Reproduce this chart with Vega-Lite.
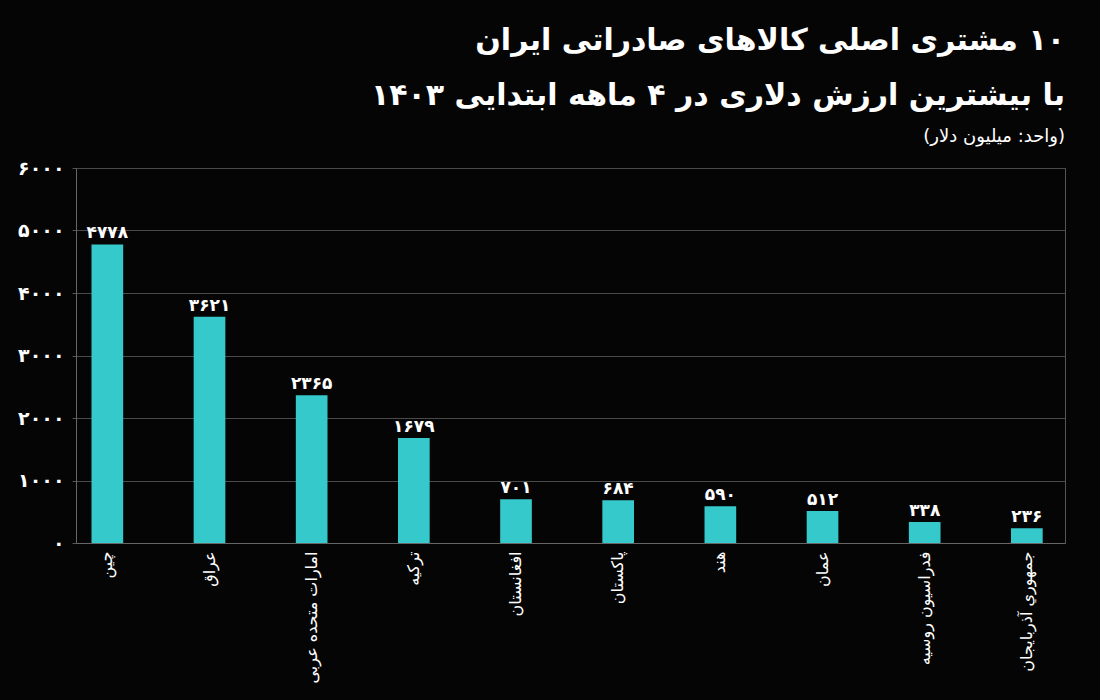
{
  "$schema": "https://vega.github.io/schema/vega-lite/v6.json",
  "width": 989,
  "height": 375,
  "autosize": {"type": "none"},
  "padding": {"left": 76, "top": 168, "right": 35, "bottom": 157},
  "background": "#050505",
  "title": {
    "text": ["\u200f۱۰ مشتری اصلی کالاهای صادراتی ایران", "\u200fبا بیشترین ارزش دلاری در ۴ ماهه ابتدایی ۱۴۰۳"],
    "subtitle": "\u200f(واحد: میلیون دلار)\u200f",
    "anchor": "end",
    "frame": "group",
    "orient": "top",
    "offset": 13,
    "font": "DejaVu Sans",
    "fontSize": 30,
    "fontWeight": "bold",
    "lineHeight": 55,
    "color": "#ffffff",
    "subtitleFont": "DejaVu Sans",
    "subtitleFontSize": 18,
    "subtitleColor": "#ffffff",
    "subtitlePadding": 17
  },
  "data": {
    "values": [
      {"country": "چین", "value": 4778},
      {"country": "عراق", "value": 3621},
      {"country": "امارات متحده عربی", "value": 2365},
      {"country": "ترکیه", "value": 1679},
      {"country": "افغانستان", "value": 701},
      {"country": "پاکستان", "value": 684},
      {"country": "هند", "value": 590},
      {"country": "عمان", "value": 512},
      {"country": "فدراسیون روسیه", "value": 338},
      {"country": "جمهوري آذربايجان", "value": 236}
    ]
  },
  "encoding": {
    "x": {
      "field": "country",
      "type": "nominal",
      "sort": null,
      "scale": {"paddingInner": 0.69, "paddingOuter": 0.185, "align": 0.41},
      "axis": {
        "title": null,
        "labelAngle": -90,
        "labelFont": "DejaVu Sans",
        "labelFontSize": 16,
        "labelColor": "#ffffff",
        "labelPadding": 8,
        "ticks": false,
        "domainColor": "#666666",
        "grid": false
      }
    },
    "y": {
      "field": "value",
      "type": "quantitative",
      "scale": {"domain": [0, 6000], "nice": false},
      "axis": {
        "title": null,
        "values": [0, 1000, 2000, 3000, 4000, 5000, 6000],
        "format": "d",
        "labelFont": "DejaVu Sans",
        "labelFontSize": 19,
        "labelFontWeight": "bold",
        "labelColor": "#ffffff",
        "labelPadding": 8,
        "tickSize": 4,
        "tickColor": "#555555",
        "domainColor": "#666666",
        "gridColor": "#4a4a4a",
        "gridWidth": 1
      }
    }
  },
  "layer": [
    {"mark": {"type": "bar", "color": "#36c9cc"}},
    {
      "mark": {"type": "text", "dy": -11, "font": "DejaVu Sans", "fontSize": 17, "fontWeight": "bold", "color": "#ffffff"},
      "encoding": {"text": {"field": "value", "type": "quantitative", "format": "d"}}
    }
  ],
  "config": {
    "view": {"stroke": "#555555"},
    "locale": {
      "number": {
        "decimal": ".",
        "thousands": ",",
        "grouping": [3],
        "currency": ["", ""],
        "numerals": ["۰", "۱", "۲", "۳", "۴", "۵", "۶", "۷", "۸", "۹"]
      }
    }
  }
}
